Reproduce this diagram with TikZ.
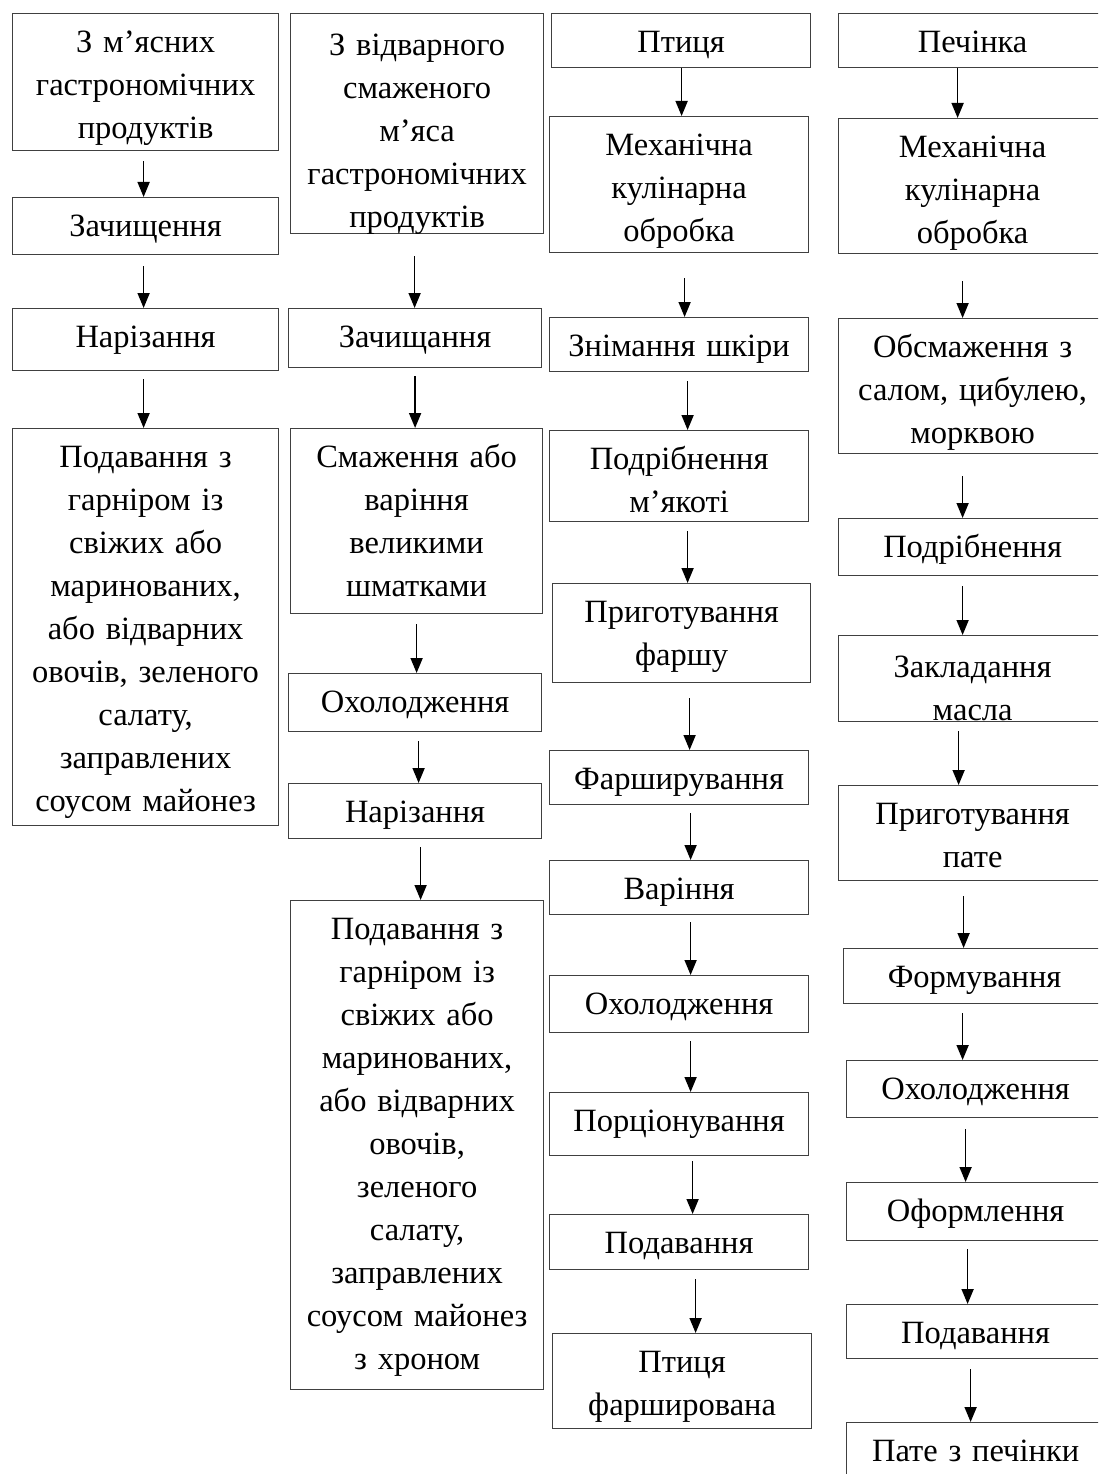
\documentclass[tikz,border=0pt]{standalone}
\usepackage{fontspec}
\setmainfont{Liberation Serif}
\usepackage{tikz}
\usetikzlibrary{arrows.meta,calc}
\newcommand{\stagefont}{\fontsize{32.5}{43}\selectfont}

\begin{document}
\begin{tikzpicture}[x=1pt,y=-1pt]
\tikzstyle{stage}=[draw=black!75,line width=1.2pt,inner sep=0pt,align=center,
  font=\stagefont,text height=39pt,anchor=north west]
\tikzstyle{flow}=[-{Triangle[length=15pt,width=12pt]},line width=1.7pt]
\useasboundingbox (0,0) rectangle (1098,1474);
\clip (0,0) rectangle (1098,1474);
% first column
\node[stage,text width=266pt,text depth=98pt] (a1) at (12,13) {З м’ясних\\гастрономічних\\продуктів};
\node[stage,text width=266pt,text depth=18pt] (a2) at (12,197) {Зачищення};
\node[stage,text width=266pt,text depth=23pt] (a3) at (12,308) {Нарізання};
\node[stage,text width=266pt,text depth=358pt] (a4) at (12,428) {Подавання з\\гарніром із\\свіжих або\\маринованих,\\або відварних\\овочів, зеленого\\салату,\\заправлених\\соусом майонез};
% second column
\begin{scope}
\clip (289,12) rectangle (544,234);
\node[stage,text width=253pt,text depth=178pt,text height=42pt] (b1) at (290,13) {З відварного\\смаженого\\м’яса\\гастрономічних\\продуктів};
\end{scope}
\node[stage,text width=253pt,text depth=20pt] (b2) at (288,308) {Зачищання};
\node[stage,text width=252pt,text depth=146pt] (b3) at (290,428) {Смаження або\\варіння\\великими\\шматками};
\node[stage,text width=253pt,text depth=19pt] (b4) at (288,673) {Охолодження};
\node[stage,text width=253pt,text depth=16pt] (b5) at (288,783) {Нарізання};
\node[stage,text width=253pt,text depth=450pt] (b6) at (290,900) {Подавання з\\гарніром із\\свіжих або\\маринованих,\\або відварних\\овочів,\\зеленого\\салату,\\заправлених\\соусом майонез\\з хроном};
% third column
\node[stage,text width=259pt,text depth=15pt] (c1) at (551,13) {Птиця};
\node[stage,text width=259pt,text depth=97pt] (c2) at (549,116) {Механічна\\кулінарна\\обробка};
\node[stage,text width=259pt,text depth=15pt] (c3) at (549,317) {Знімання шкіри};
\node[stage,text width=259pt,text depth=52pt] (c4) at (549,430) {Подрібнення\\м’якоті};
\node[stage,text width=258pt,text depth=60pt] (c5) at (552,583) {Приготування\\фаршу};
\node[stage,text width=259pt,text depth=15pt] (c6) at (549,750) {Фарширування};
\node[stage,text width=259pt,text depth=15pt] (c7) at (549,860) {Варіння};
\node[stage,text width=259pt,text depth=18pt] (c8) at (549,975) {Охолодження};
\node[stage,text width=259pt,text depth=24pt] (c9) at (549,1092) {Порціонування};
\node[stage,text width=259pt,text depth=16pt] (c10) at (549,1214) {Подавання};
\node[stage,text width=259pt,text depth=56pt] (c11) at (552,1333) {Птиця\\фарширована};
% fourth column
\node[stage,text width=268pt,text depth=15pt] (d1) at (838,13) {Печінка};
\node[stage,text width=268pt,text depth=96pt] (d2) at (838,118) {Механічна\\кулінарна\\обробка};
\node[stage,text width=268pt,text depth=96pt] (d3) at (838,318) {Обсмаження з\\салом, цибулею,\\морквою};
\node[stage,text width=268pt,text depth=18pt] (d4) at (838,518) {Подрібнення};
\begin{scope}
\clip (837,634) rectangle (1110,722);
\node[stage,text width=268pt,text depth=44pt,text height=42pt] (d5) at (838,635) {Закладання\\масла};
\end{scope}
\node[stage,text width=268pt,text depth=56pt] (d6) at (838,785) {Приготування\\пате};
\node[stage,text width=262pt,text depth=16pt] (d7) at (843,948) {Формування};
\node[stage,text width=258pt,text depth=18pt] (d8) at (846,1060) {Охолодження};
\node[stage,text width=258pt,text depth=19pt] (d9) at (846,1182) {Оформлення};
\node[stage,text width=258pt,text depth=15pt] (d10) at (846,1304) {Подавання};
\node[stage,text width=258pt,text depth=21pt] (d11) at (846,1422) {Пате з печінки};
% arrows: from/to/xshift/gap
\foreach \from/\to/\dx/\gap in {a1/a2/-2/10,a2/a3/-2/11,a3/a4/-2/8,
  b1/b2/-2.5/22,b2/b3/0/8,b3/b4/0/10,b4/b5/3.5/9,b5/b6/5.5/8,
  c1/c2/0.5/0,c2/c3/5.5/25,c3/c4/8.5/9,c4/c5/8.5/9,c5/c6/8/15,c6/c7/11.5/8,
  c7/c8/11.5/7,c8/c9/11.5/8,c9/c10/13.5/5,c10/c11/16.5/9,
  d1/d2/-15/0,d2/d3/-10/27,d3/d4/-10/22,d4/d5/-10/10,d5/d6/-14/9,d6/d7/-9/15,
  d7/d8/-12/9,d8/d9/-10/11,d9/d10/-8/8,d10/d11/-5/10}
  \draw[flow] ([xshift=\dx pt,yshift=-\gap pt]\from.south) -- ([xshift=\dx pt]\from.south |- \to.north);
\end{tikzpicture}
\end{document}
